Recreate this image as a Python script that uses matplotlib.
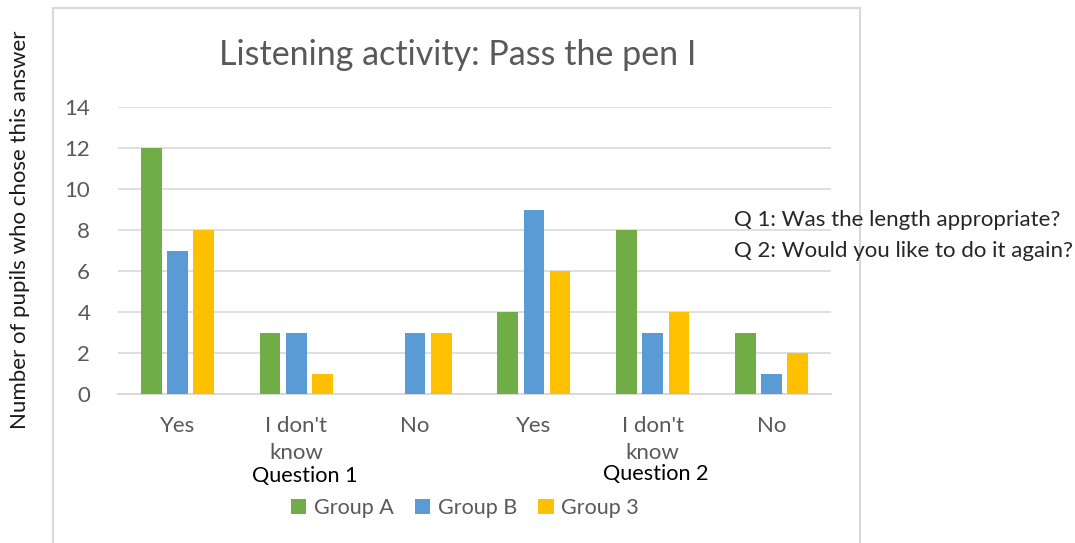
import matplotlib.pyplot as plt
from matplotlib.patches import Rectangle
import numpy as np

# data
categories = ["Yes", "I don't\nknow", "No", "Yes", "I don't\nknow", "No"]
group_a = [12, 3, 0, 4, 8, 3]
group_b = [7, 3, 3, 9, 3, 1]
group_3 = [8, 1, 3, 6, 4, 2]
series_names = ["Group A", "Group B", "Group 3"]
colors = ["#70AD47", "#5B9BD5", "#FFC000"]

plt.rcParams['font.family'] = ['Lato', 'DejaVu Sans']

fig = plt.figure(figsize=(10.75, 5.43), dpi=100)
ax = fig.add_axes([118/1075, 1-394/543, (831-118)/1075, (394-107)/543])

# chart frame (light border like the Excel chart area)
fig.patches.append(Rectangle((53/1075, -0.05), (860-53)/1075, 1.05 - 8/543,
                             transform=fig.transFigure, fill=False,
                             edgecolor="#d9d9d9", linewidth=1.5))

x = np.arange(len(categories))
w = 0.173
step = 0.22
for i, (vals, name, c) in enumerate(zip([group_a, group_b, group_3], series_names, colors)):
    ax.bar(x + (i - 1) * step, vals, width=w, color=c, label=name, zorder=3)

ax.set_xlim(-0.5, 5.5)
ax.set_ylim(0, 14)
ax.set_yticks(range(0, 15, 2))
ax.yaxis.grid(True, color="#d9d9d9", linewidth=1.2, zorder=0)
for s in ["top", "right", "left"]:
    ax.spines[s].set_visible(False)
ax.spines["bottom"].set_color("#d9d9d9")
ax.spines["bottom"].set_linewidth(1.5)
ax.tick_params(axis="both", length=0, labelsize=16, labelcolor="#595959")
ax.tick_params(axis="y", pad=20)
ax.tick_params(axis="x", pad=16)
ax.set_xticks(x)
ax.set_xticklabels(categories, linespacing=1.4)

fig.text(458/1075, 1-55/543, "Listening activity: Pass the pen I", fontsize=24.5,
         color="#595959", ha="center", va="center")
fig.text(20/1075, 1-230/543, "Number of pupils who chose this answer", rotation=90,
         fontsize=16, color="#1a1a1a", ha="center", va="center")
fig.text(305/1075, 1-476/543, "Question 1", fontsize=15.6, color="black", ha="center", va="center")
fig.text(656/1075, 1-474/543, "Question 2", fontsize=15.6, color="black", ha="center", va="center")
fig.text(734/1075, 1-220/543, "Q 1: Was the length appropriate?", fontsize=16,
         color="#262626", ha="left", va="center")
fig.text(734/1075, 1-251/543, "Q 2: Would you like to do it again?", fontsize=16,
         color="#262626", ha="left", va="center")

leg = fig.legend(loc="center", bbox_to_anchor=(465/1075, 1-508/543), ncol=3, frameon=False,
                 fontsize=15.5, handlelength=0.7, handleheight=0.7, handletextpad=0.35,
                 columnspacing=1.0)
for t in leg.get_texts():
    t.set_color("#595959")

fig.savefig("out.png", dpi=100)
